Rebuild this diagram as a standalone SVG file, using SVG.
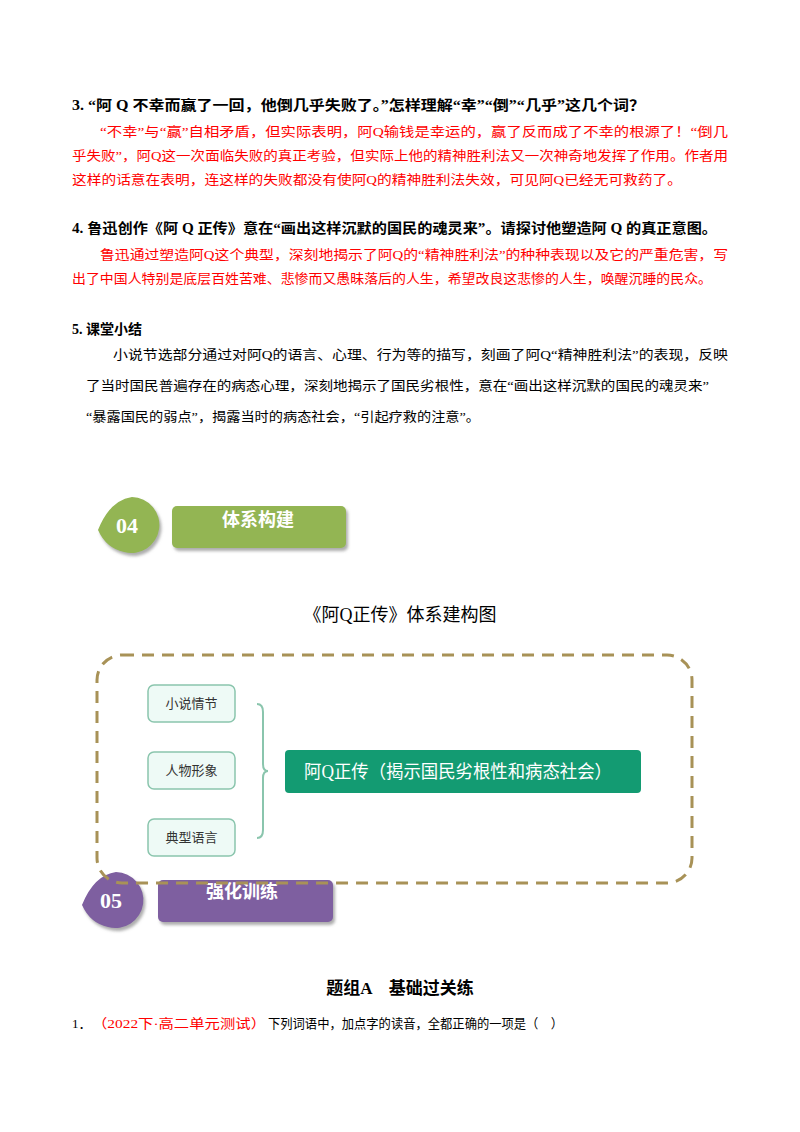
<svg xmlns="http://www.w3.org/2000/svg" width="800" height="1132" viewBox="0 0 800 1132">
<style>
text{font-family:"Liberation Serif","Noto Sans CJK SC",serif;}
.b{font-weight:bold;font-size:14px;fill:#000}
.r{font-size:13px;fill:#ff0000}
.n{font-size:13px;fill:#000}
.s{font-family:"Noto Sans CJK SC",sans-serif;font-size:13px;fill:#333}
.box{fill:#eefaf6;stroke:#8ac5ad;stroke-width:1.5}
</style>
<defs><filter id="sh" x="-10%" y="-10%" width="130%" height="140%"><feDropShadow dx="2" dy="3" stdDeviation="1.5" flood-color="#777" flood-opacity="0.6"/></filter></defs>
<rect width="800" height="1132" fill="#fff"/>
<text class="b" x="72" y="110" textLength="573" lengthAdjust="spacingAndGlyphs">3. “阿 Q 不幸而赢了一回，他倒几乎失败了。”怎样理解“幸”“倒”“几乎”这几个词？</text>
<text class="r" x="100" y="136" textLength="628" lengthAdjust="spacingAndGlyphs">“不幸”与“赢”自相矛盾，但实际表明，阿Q输钱是幸运的，赢了反而成了不幸的根源了！“倒几</text>
<text class="r" x="72" y="160" textLength="656" lengthAdjust="spacingAndGlyphs">乎失败”，阿Q这一次面临失败的真正考验，但实际上他的精神胜利法又一次神奇地发挥了作用。作者用</text>
<text class="r" x="72" y="184" textLength="610" lengthAdjust="spacingAndGlyphs">这样的话意在表明，连这样的失败都没有使阿Q的精神胜利法失效，可见阿Q已经无可救药了。</text>
<text class="b" x="72" y="233" textLength="645" lengthAdjust="spacingAndGlyphs">4. 鲁迅创作《阿 Q 正传》意在“画出这样沉默的国民的魂灵来”。请探讨他塑造阿 Q 的真正意图。</text>
<text class="r" x="100" y="259" textLength="628" lengthAdjust="spacingAndGlyphs">鲁迅通过塑造阿Q这个典型，深刻地揭示了阿Q的“精神胜利法”的种种表现以及它的严重危害，写</text>
<text class="r" x="72" y="283" textLength="640" lengthAdjust="spacingAndGlyphs">出了中国人特别是底层百姓苦难、悲惨而又愚昧落后的人生，希望改良这悲惨的人生，唤醒沉睡的民众。</text>
<text class="b" x="72" y="334">5. 课堂小结</text>
<text class="n" x="113" y="359" textLength="615" lengthAdjust="spacingAndGlyphs">小说节选部分通过对阿Q的语言、心理、行为等的描写，刻画了阿Q“精神胜利法”的表现，反映</text>
<text class="n" x="86" y="390" textLength="623" lengthAdjust="spacingAndGlyphs">了当时国民普遍存在的病态心理，深刻地揭示了国民劣根性，意在“画出这样沉默的国民的魂灵来”</text>
<text class="n" x="86" y="421" textLength="394" lengthAdjust="spacingAndGlyphs">“暴露国民的弱点”，揭露当时的病态社会，“引起疗救的注意”。</text>

<g id="badge04">
<path d="M98,530 Q110,500 132,497 A28,28 0 1 1 124,552 Q106,548 98,530 Z" fill="#93b553" filter="url(#sh)"/>
<text x="127" y="533" text-anchor="middle" font-family="'Liberation Sans',sans-serif" font-weight="bold" font-size="22" fill="#fff">04</text>
<rect x="172" y="506" width="174" height="42" rx="5" fill="#93b553" filter="url(#sh)"/>
<text x="258" y="526" text-anchor="middle" font-family="'Noto Sans CJK SC',sans-serif" font-weight="bold" font-size="18" fill="#fff">体系构建</text>
</g>
<text x="400" y="621" text-anchor="middle" font-family="'Noto Sans CJK SC',sans-serif" font-size="18" fill="#000">《阿Q正传》体系建构图</text>

<g id="badge05">
<path d="M82,905 Q94,875 116,872 A28,28 0 1 1 108,927 Q90,923 82,905 Z" fill="#7e5fa0" filter="url(#sh)"/>
<text x="111" y="908" text-anchor="middle" font-family="'Liberation Sans',sans-serif" font-weight="bold" font-size="22" fill="#fff">05</text>
<rect x="158" y="880" width="175" height="42" rx="5" fill="#7e5fa0" filter="url(#sh)"/>
<text x="242" y="898" text-anchor="middle" font-family="'Noto Sans CJK SC',sans-serif" font-weight="bold" font-size="18" fill="#fff">强化训练</text>
</g>

<g id="frame"><rect x="97" y="655" width="595" height="228" rx="25" fill="none" stroke="#a89257" stroke-width="3" stroke-dasharray="12 8"/></g>

<g id="n1"><rect class="box" x="148" y="685" width="87" height="37" rx="6"/><text class="s" x="191.5" y="708" text-anchor="middle">小说情节</text></g>
<g id="n2"><rect class="box" x="148" y="752" width="87" height="37" rx="6"/><text class="s" x="191.5" y="775" text-anchor="middle">人物形象</text></g>
<g id="n3"><rect class="box" x="148" y="819" width="87" height="37" rx="6"/><text class="s" x="191.5" y="842" text-anchor="middle">典型语言</text></g>
<g id="connectors"><path d="M257,704 Q263,704 263,712 L263,764 Q263,771 268,771 Q263,771 263,778 L263,830 Q263,838 257,838" fill="none" stroke="#8ac5ad" stroke-width="2"/></g>
<g id="main"><rect x="285" y="750" width="356" height="43" rx="4" fill="#139b72"/><text x="304" y="778" font-family="'Noto Sans CJK SC',sans-serif" font-size="18" fill="#fff" textLength="308" lengthAdjust="spacingAndGlyphs">阿Q正传（揭示国民劣根性和病态社会）</text></g>

<text x="400" y="994" text-anchor="middle" font-weight="bold" font-size="17" fill="#000">题组A　基础过关练</text>
<text class="n" x="72" y="1028">1．</text>
<text class="r" x="92" y="1028" textLength="174" lengthAdjust="spacingAndGlyphs">（2022下·高二单元测试）</text>
<text class="n" x="268" y="1028" textLength="295" lengthAdjust="spacingAndGlyphs">下列词语中，加点字的读音，全都正确的一项是（　）</text>
</svg>
